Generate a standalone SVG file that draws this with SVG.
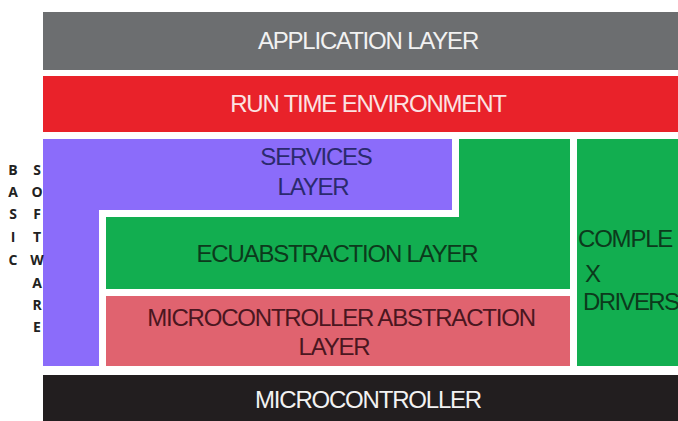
<svg xmlns="http://www.w3.org/2000/svg" width="678" height="421" viewBox="0 0 678 421">
  <style>
    .lbl { font-family: "Liberation Sans", Arial, sans-serif; font-size: 24px; letter-spacing: -1.2px; text-anchor: middle; }
    .side { font-family: "Open Sans", "DejaVu Sans", sans-serif; font-size: 14px; font-weight: bold; fill: #222; text-anchor: middle; }
  </style>
  <rect width="678" height="421" fill="#ffffff"/>

  <g id="application-layer">
    <rect x="43" y="12" width="635" height="58" fill="#6c6e70"/>
    <text class="lbl" x="368" y="49" fill="#f2f2f2">APPLICATION LAYER</text>
  </g>

  <g id="rte">
    <rect x="43" y="76" width="635" height="56" fill="#e9222a"/>
    <text class="lbl" x="368" y="112" fill="#fbe3e3">RUN TIME ENVIRONMENT</text>
  </g>

  <g id="services-layer">
    <path d="M43 139 H452 V210 H99 V366 H43 Z" fill="#8b6cfa"/>
    <text class="lbl" x="316" y="165" fill="#2b2a6e">SERVICES</text>
    <text class="lbl" x="313" y="195" fill="#2b2a6e">LAYER</text>
  </g>

  <g id="ecu-abstraction-layer">
    <path d="M459 139 H570 V289 H106 V217 H459 Z" fill="#12ae50"/>
    <text class="lbl" x="337" y="262" fill="#0c3a1c">ECUABSTRACTION LAYER</text>
  </g>

  <g id="mcal">
    <rect x="106" y="296" width="464" height="70" fill="#e0636f"/>
    <text class="lbl" x="341" y="326" fill="#4a1620">MICROCONTROLLER ABSTRACTION</text>
    <text class="lbl" x="334" y="355" fill="#4a1620">LAYER</text>
  </g>

  <g id="complex-drivers">
    <rect x="577" y="139" width="101" height="227" fill="#12ae50"/>
    <text class="lbl" x="578" y="247" fill="#0c3a1c" style="text-anchor:start">COMPLE</text>
    <text class="lbl" x="585" y="282" fill="#0c3a1c" style="text-anchor:start">X</text>
    <text class="lbl" x="583" y="310" fill="#0c3a1c" style="text-anchor:start;letter-spacing:-1.6px">DRIVERS</text>
  </g>

  <g id="microcontroller">
    <rect x="43" y="375" width="635" height="46" fill="#221e1f"/>
    <text class="lbl" x="368" y="408" fill="#f2f2f2">MICROCONTROLLER</text>
  </g>

  <g id="basic-software-label">
    <text class="side" x="13" y="175">B</text>
    <text class="side" x="13" y="197">A</text>
    <text class="side" x="13" y="219">S</text>
    <text class="side" x="13" y="242">I</text>
    <text class="side" x="13" y="265">C</text>
    <text class="side" x="37" y="175">S</text>
    <text class="side" x="37" y="197">O</text>
    <text class="side" x="37" y="219">F</text>
    <text class="side" x="37" y="242">T</text>
    <text class="side" x="37" y="265">W</text>
    <text class="side" x="37" y="288">A</text>
    <text class="side" x="37" y="310">R</text>
    <text class="side" x="37" y="332">E</text>
  </g>
</svg>
